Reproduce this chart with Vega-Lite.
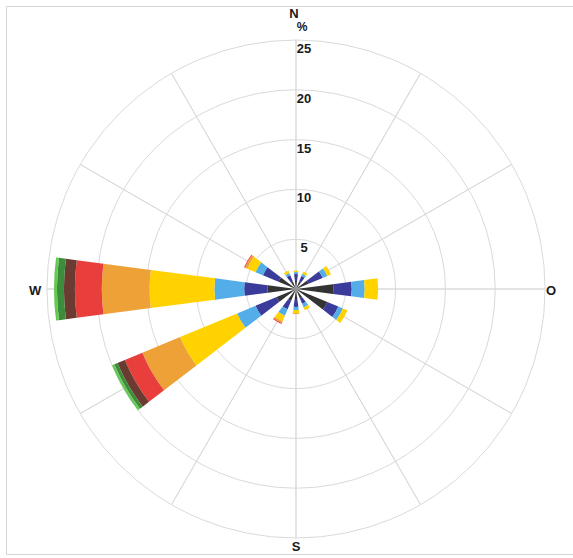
{
  "$schema": "https://vega.github.io/schema/vega-lite/v6.json",
  "width": 567,
  "height": 548,
  "autosize": "none",
  "padding": {"left": 6, "top": 6, "right": 0, "bottom": 4},
  "background": "white",
  "config": {"view": {"stroke": "#d4d4d4", "strokeWidth": 1}},
  "datasets": {
    "wind": [
      {"dir": 0, "k": 1, "v": 0.8}, {"dir": 0, "k": 2, "v": 0.7}, {"dir": 0, "k": 3, "v": 0.2}, {"dir": 0, "k": 4, "v": 0.15},
      {"dir": 30, "k": 1, "v": 0.8}, {"dir": 30, "k": 2, "v": 0.6}, {"dir": 30, "k": 3, "v": 0.25}, {"dir": 30, "k": 4, "v": 0.25},
      {"dir": 60, "k": 1, "v": 1.35}, {"dir": 60, "k": 2, "v": 1.55}, {"dir": 60, "k": 3, "v": 0.5}, {"dir": 60, "k": 4, "v": 0.4},
      {"dir": 90, "k": 1, "v": 3.75}, {"dir": 90, "k": 2, "v": 1.85}, {"dir": 90, "k": 3, "v": 1.3}, {"dir": 90, "k": 4, "v": 1.35},
      {"dir": 120, "k": 1, "v": 3.4}, {"dir": 120, "k": 2, "v": 1.2}, {"dir": 120, "k": 3, "v": 0.5}, {"dir": 120, "k": 4, "v": 0.5},
      {"dir": 150, "k": 1, "v": 1.0}, {"dir": 150, "k": 2, "v": 0.6}, {"dir": 150, "k": 3, "v": 0.4}, {"dir": 150, "k": 4, "v": 0.3},
      {"dir": 180, "k": 1, "v": 1.0}, {"dir": 180, "k": 2, "v": 0.8}, {"dir": 180, "k": 3, "v": 0.3}, {"dir": 180, "k": 4, "v": 0.3}, {"dir": 180, "k": 5, "v": 0.1},
      {"dir": 210, "k": 1, "v": 1.3}, {"dir": 210, "k": 2, "v": 0.9}, {"dir": 210, "k": 3, "v": 0.7}, {"dir": 210, "k": 4, "v": 0.6}, {"dir": 210, "k": 5, "v": 0.2}, {"dir": 210, "k": 6, "v": 0.1},
      {"dir": 240, "k": 1, "v": 2.1}, {"dir": 240, "k": 2, "v": 2.3}, {"dir": 240, "k": 3, "v": 2.0}, {"dir": 240, "k": 4, "v": 6.2}, {"dir": 240, "k": 5, "v": 4.1}, {"dir": 240, "k": 6, "v": 1.9}, {"dir": 240, "k": 7, "v": 0.8}, {"dir": 240, "k": 8, "v": 0.35}, {"dir": 240, "k": 9, "v": 0.25},
      {"dir": 270, "k": 1, "v": 2.85}, {"dir": 270, "k": 2, "v": 2.35}, {"dir": 270, "k": 3, "v": 3.0}, {"dir": 270, "k": 4, "v": 6.5}, {"dir": 270, "k": 5, "v": 4.8}, {"dir": 270, "k": 6, "v": 2.7}, {"dir": 270, "k": 7, "v": 1.1}, {"dir": 270, "k": 8, "v": 0.7}, {"dir": 270, "k": 9, "v": 0.3},
      {"dir": 300, "k": 1, "v": 1.9}, {"dir": 300, "k": 2, "v": 1.7}, {"dir": 300, "k": 3, "v": 0.8}, {"dir": 300, "k": 4, "v": 0.9}, {"dir": 300, "k": 5, "v": 0.25}, {"dir": 300, "k": 6, "v": 0.1},
      {"dir": 330, "k": 1, "v": 0.8}, {"dir": 330, "k": 2, "v": 0.7}, {"dir": 330, "k": 3, "v": 0.25}, {"dir": 330, "k": 4, "v": 0.25}
    ],
    "rings": [{"r": 5}, {"r": 10}, {"r": 15}, {"r": 20}, {"r": 25}],
    "spokes": [{"dir": 0}, {"dir": 30}, {"dir": 60}, {"dir": 90}, {"dir": 120}, {"dir": 150}, {"dir": 180}, {"dir": 210}, {"dir": 240}, {"dir": 270}, {"dir": 300}, {"dir": 330}],
    "one": [{"id": 1}]
  },
  "layer": [
    {
      "data": {"name": "rings"},
      "mark": {"type": "arc", "filled": false, "stroke": "#dadada", "strokeWidth": 1, "theta": 0, "theta2": 6.2832},
      "encoding": {
        "x": {"datum": 0, "type": "quantitative", "scale": {"domain": [-29.116, 27.811], "nice": false, "zero": false}, "axis": null},
        "y": {"datum": 0, "type": "quantitative", "scale": {"domain": [-26.606, 28.414], "nice": false, "zero": false}, "axis": null},
        "radius": {"field": "r", "type": "quantitative", "stack": null, "scale": {"type": "linear", "domain": [0, 25], "range": [0, 249], "zero": true, "nice": false}}
      }
    },
    {
      "data": {"name": "spokes"},
      "mark": {"type": "arc", "filled": false, "stroke": "#dadada", "strokeWidth": 1},
      "encoding": {
        "x": {"datum": 0, "type": "quantitative", "axis": null},
        "y": {"datum": 0, "type": "quantitative", "axis": null},
        "theta": {"field": "dir", "type": "quantitative", "stack": null, "scale": {"domain": [0, 360], "range": [0, 6.283185307179586], "nice": false, "zero": false}},
        "theta2": {"field": "dir"},
        "radius": {"datum": 25, "type": "quantitative"}
      }
    },
    {
      "data": {"name": "wind"},
      "transform": [
        {"stack": "v", "groupby": ["dir"], "sort": [{"field": "k", "order": "ascending"}], "as": ["r0", "r1"]},
        {"bin": {"anchor": -7.5, "step": 15, "extent": [-7.5, 352.5], "nice": false}, "field": "dir", "as": ["t0", "t1"]}
      ],
      "mark": {"type": "arc", "strokeWidth": 0},
      "encoding": {
        "x": {"datum": 0, "type": "quantitative", "axis": null},
        "y": {"datum": 0, "type": "quantitative", "axis": null},
        "theta": {"field": "t0", "type": "quantitative", "stack": null},
        "theta2": {"field": "t1"},
        "radius": {"field": "r1", "type": "quantitative", "stack": null},
        "radius2": {"field": "r0"},
        "color": {"field": "k", "type": "ordinal", "legend": null, "scale": {"domain": [1, 2, 3, 4, 5, 6, 7, 8, 9], "range": ["#333333", "#3b3b9c", "#52ade8", "#ffd200", "#eda136", "#e83f3c", "#6b3a30", "#3b8c3b", "#66c752"]}}
      }
    },
    {
      "data": {"name": "rings"},
      "mark": {"type": "text", "font": "Liberation Sans", "fontWeight": "bold", "fontSize": 13, "align": "center", "baseline": "top", "dx": 8, "dy": 3, "color": "#1a1a1a"},
      "encoding": {
        "x": {"datum": 0, "type": "quantitative", "axis": null},
        "y": {"datum": 0, "type": "quantitative", "axis": null},
        "theta": {"datum": 0, "type": "quantitative"},
        "radius": {"field": "r", "type": "quantitative", "stack": null},
        "text": {"field": "r", "type": "quantitative"}
      }
    },
    {
      "data": {"name": "one"},
      "mark": {"type": "text", "font": "Liberation Sans", "fontWeight": "bold", "fontSize": 13, "align": "center", "baseline": "middle", "dx": -2, "color": "#1a1a1a"},
      "encoding": {
        "x": {"datum": 0, "type": "quantitative", "axis": null},
        "y": {"datum": 0, "type": "quantitative", "axis": null},
        "theta": {"datum": 0, "type": "quantitative"},
        "radius": {"datum": 27.65, "type": "quantitative"},
        "text": {"value": "N"}
      }
    },
    {
      "data": {"name": "one"},
      "mark": {"type": "text", "font": "Liberation Sans", "fontWeight": "bold", "fontSize": 12, "align": "center", "baseline": "middle", "dx": 6, "color": "#1a1a1a"},
      "encoding": {
        "x": {"datum": 0, "type": "quantitative", "axis": null},
        "y": {"datum": 0, "type": "quantitative", "axis": null},
        "theta": {"datum": 0, "type": "quantitative"},
        "radius": {"datum": 26.3, "type": "quantitative"},
        "text": {"value": "%"}
      }
    },
    {
      "data": {"name": "one"},
      "mark": {"type": "text", "font": "Liberation Sans", "fontWeight": "bold", "fontSize": 13, "align": "center", "baseline": "middle", "dy": 2, "color": "#1a1a1a"},
      "encoding": {
        "x": {"datum": 0, "type": "quantitative", "axis": null},
        "y": {"datum": 0, "type": "quantitative", "axis": null},
        "theta": {"datum": 270, "type": "quantitative"},
        "radius": {"datum": 26.2, "type": "quantitative"},
        "text": {"value": "W"}
      }
    },
    {
      "data": {"name": "one"},
      "mark": {"type": "text", "font": "Liberation Sans", "fontWeight": "bold", "fontSize": 13, "align": "center", "baseline": "middle", "dy": 2, "color": "#1a1a1a"},
      "encoding": {
        "x": {"datum": 0, "type": "quantitative", "axis": null},
        "y": {"datum": 0, "type": "quantitative", "axis": null},
        "theta": {"datum": 90, "type": "quantitative"},
        "radius": {"datum": 25.6, "type": "quantitative"},
        "text": {"value": "O"}
      }
    },
    {
      "data": {"name": "one"},
      "mark": {"type": "text", "font": "Liberation Sans", "fontWeight": "bold", "fontSize": 13, "align": "center", "baseline": "middle", "color": "#1a1a1a"},
      "encoding": {
        "x": {"datum": 0, "type": "quantitative", "axis": null},
        "y": {"datum": 0, "type": "quantitative", "axis": null},
        "theta": {"datum": 180, "type": "quantitative"},
        "radius": {"datum": 25.9, "type": "quantitative"},
        "text": {"value": "S"}
      }
    }
  ]
}
